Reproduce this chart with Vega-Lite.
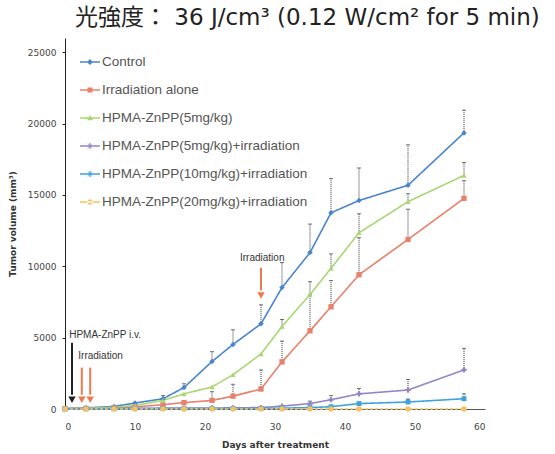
{
  "$schema": "https://vega.github.io/schema/vega-lite/v6.json",
  "width": 420,
  "height": 371,
  "autosize": {"type": "none"},
  "padding": {"left": 65, "top": 38, "right": 70, "bottom": 45},
  "background": "white",
  "title": {
    "text": "光強度： 36 J/cm³ (0.12 W/cm² for 5 min)",
    "anchor": "start",
    "frame": "group",
    "dx": 10,
    "offset": 8,
    "font": "DejaVu Sans, Noto Sans CJK JP",
    "fontSize": 23,
    "fontWeight": "normal",
    "color": "#222"
  },
  "config": {
    "view": {"stroke": null},
    "font": "DejaVu Sans",
    "axis": {"grid": false, "domainColor": "#222", "tickColor": "#222", "labelColor": "#444", "labelFont": "DejaVu Sans", "labelFontSize": 9, "titleFont": "DejaVu Sans", "titleColor": "#333", "titleFontSize": 9, "titleFontWeight": "bold"}
  },
  "datasets": {
    "series": [
      {"day": 0, "group": "Control", "v": 30}, {"day": 3, "group": "Control", "v": 80}, {"day": 7, "group": "Control", "v": 180}, {"day": 10, "group": "Control", "v": 420},
      {"day": 14, "group": "Control", "v": 720, "top": 940}, {"day": 17, "group": "Control", "v": 1500, "top": 1770}, {"day": 21, "group": "Control", "v": 3330, "top": 4020},
      {"day": 24, "group": "Control", "v": 4520, "top": 5550}, {"day": 28, "group": "Control", "v": 5970, "top": 7300}, {"day": 31, "group": "Control", "v": 8510, "top": 10260},
      {"day": 35, "group": "Control", "v": 10960, "top": 12960}, {"day": 38, "group": "Control", "v": 13750, "top": 16150}, {"day": 42, "group": "Control", "v": 14610, "top": 16890},
      {"day": 49, "group": "Control", "v": 15680, "top": 18510}, {"day": 57, "group": "Control", "v": 19350, "top": 20940},

      {"day": 0, "group": "Irradiation alone", "v": 20}, {"day": 3, "group": "Irradiation alone", "v": 40}, {"day": 7, "group": "Irradiation alone", "v": 80}, {"day": 10, "group": "Irradiation alone", "v": 150},
      {"day": 14, "group": "Irradiation alone", "v": 300}, {"day": 17, "group": "Irradiation alone", "v": 450}, {"day": 21, "group": "Irradiation alone", "v": 600, "top": 1210},
      {"day": 24, "group": "Irradiation alone", "v": 900, "top": 1730}, {"day": 28, "group": "Irradiation alone", "v": 1400, "top": 2740}, {"day": 31, "group": "Irradiation alone", "v": 3300, "top": 4760},
      {"day": 35, "group": "Irradiation alone", "v": 5480, "top": 8000}, {"day": 38, "group": "Irradiation alone", "v": 7160, "top": 9000}, {"day": 42, "group": "Irradiation alone", "v": 9410, "top": 12000},
      {"day": 49, "group": "Irradiation alone", "v": 11880, "top": 14000}, {"day": 57, "group": "Irradiation alone", "v": 14760, "top": 16000},

      {"day": 0, "group": "HPMA-ZnPP(5mg/kg)", "v": 30}, {"day": 3, "group": "HPMA-ZnPP(5mg/kg)", "v": 60}, {"day": 7, "group": "HPMA-ZnPP(5mg/kg)", "v": 120}, {"day": 10, "group": "HPMA-ZnPP(5mg/kg)", "v": 250},
      {"day": 14, "group": "HPMA-ZnPP(5mg/kg)", "v": 600}, {"day": 17, "group": "HPMA-ZnPP(5mg/kg)", "v": 1060}, {"day": 21, "group": "HPMA-ZnPP(5mg/kg)", "v": 1550},
      {"day": 24, "group": "HPMA-ZnPP(5mg/kg)", "v": 2400}, {"day": 28, "group": "HPMA-ZnPP(5mg/kg)", "v": 3860}, {"day": 31, "group": "HPMA-ZnPP(5mg/kg)", "v": 5780, "top": 6270},
      {"day": 35, "group": "HPMA-ZnPP(5mg/kg)", "v": 8020, "top": 8920}, {"day": 38, "group": "HPMA-ZnPP(5mg/kg)", "v": 9860, "top": 10870}, {"day": 42, "group": "HPMA-ZnPP(5mg/kg)", "v": 12350, "top": 13680},
      {"day": 49, "group": "HPMA-ZnPP(5mg/kg)", "v": 14530, "top": 15090}, {"day": 57, "group": "HPMA-ZnPP(5mg/kg)", "v": 16370, "top": 17270},

      {"day": 0, "group": "HPMA-ZnPP(5mg/kg)+irradiation", "v": 20}, {"day": 3, "group": "HPMA-ZnPP(5mg/kg)+irradiation", "v": 30}, {"day": 7, "group": "HPMA-ZnPP(5mg/kg)+irradiation", "v": 40}, {"day": 10, "group": "HPMA-ZnPP(5mg/kg)+irradiation", "v": 50},
      {"day": 14, "group": "HPMA-ZnPP(5mg/kg)+irradiation", "v": 60}, {"day": 17, "group": "HPMA-ZnPP(5mg/kg)+irradiation", "v": 60}, {"day": 21, "group": "HPMA-ZnPP(5mg/kg)+irradiation", "v": 70},
      {"day": 24, "group": "HPMA-ZnPP(5mg/kg)+irradiation", "v": 80}, {"day": 28, "group": "HPMA-ZnPP(5mg/kg)+irradiation", "v": 100}, {"day": 31, "group": "HPMA-ZnPP(5mg/kg)+irradiation", "v": 200},
      {"day": 35, "group": "HPMA-ZnPP(5mg/kg)+irradiation", "v": 380, "top": 550}, {"day": 38, "group": "HPMA-ZnPP(5mg/kg)+irradiation", "v": 650, "top": 940}, {"day": 42, "group": "HPMA-ZnPP(5mg/kg)+irradiation", "v": 1060, "top": 1440},
      {"day": 49, "group": "HPMA-ZnPP(5mg/kg)+irradiation", "v": 1330, "top": 2070}, {"day": 57, "group": "HPMA-ZnPP(5mg/kg)+irradiation", "v": 2740, "top": 4250},

      {"day": 0, "group": "HPMA-ZnPP(10mg/kg)+irradiation", "v": 10}, {"day": 3, "group": "HPMA-ZnPP(10mg/kg)+irradiation", "v": 20}, {"day": 7, "group": "HPMA-ZnPP(10mg/kg)+irradiation", "v": 20}, {"day": 10, "group": "HPMA-ZnPP(10mg/kg)+irradiation", "v": 25},
      {"day": 14, "group": "HPMA-ZnPP(10mg/kg)+irradiation", "v": 30}, {"day": 17, "group": "HPMA-ZnPP(10mg/kg)+irradiation", "v": 30}, {"day": 21, "group": "HPMA-ZnPP(10mg/kg)+irradiation", "v": 35},
      {"day": 24, "group": "HPMA-ZnPP(10mg/kg)+irradiation", "v": 35}, {"day": 28, "group": "HPMA-ZnPP(10mg/kg)+irradiation", "v": 40}, {"day": 31, "group": "HPMA-ZnPP(10mg/kg)+irradiation", "v": 60},
      {"day": 35, "group": "HPMA-ZnPP(10mg/kg)+irradiation", "v": 100}, {"day": 38, "group": "HPMA-ZnPP(10mg/kg)+irradiation", "v": 160}, {"day": 42, "group": "HPMA-ZnPP(10mg/kg)+irradiation", "v": 380},
      {"day": 49, "group": "HPMA-ZnPP(10mg/kg)+irradiation", "v": 490, "top": 700}, {"day": 57, "group": "HPMA-ZnPP(10mg/kg)+irradiation", "v": 720, "top": 1060},

      {"day": 0, "group": "HPMA-ZnPP(20mg/kg)+irradiation", "v": 5}, {"day": 3, "group": "HPMA-ZnPP(20mg/kg)+irradiation", "v": 5}, {"day": 7, "group": "HPMA-ZnPP(20mg/kg)+irradiation", "v": 5}, {"day": 10, "group": "HPMA-ZnPP(20mg/kg)+irradiation", "v": 5},
      {"day": 14, "group": "HPMA-ZnPP(20mg/kg)+irradiation", "v": 5}, {"day": 17, "group": "HPMA-ZnPP(20mg/kg)+irradiation", "v": 5}, {"day": 21, "group": "HPMA-ZnPP(20mg/kg)+irradiation", "v": 5},
      {"day": 24, "group": "HPMA-ZnPP(20mg/kg)+irradiation", "v": 5}, {"day": 28, "group": "HPMA-ZnPP(20mg/kg)+irradiation", "v": 5}, {"day": 31, "group": "HPMA-ZnPP(20mg/kg)+irradiation", "v": 5},
      {"day": 35, "group": "HPMA-ZnPP(20mg/kg)+irradiation", "v": 5}, {"day": 38, "group": "HPMA-ZnPP(20mg/kg)+irradiation", "v": 5}, {"day": 42, "group": "HPMA-ZnPP(20mg/kg)+irradiation", "v": 5},
      {"day": 49, "group": "HPMA-ZnPP(20mg/kg)+irradiation", "v": 5}, {"day": 57, "group": "HPMA-ZnPP(20mg/kg)+irradiation", "v": 5}
    ],
    "arrows": [
      {"day": 1, "y1": 4650, "y2": 1000, "tip": 650, "kind": "dark"},
      {"day": 2.4, "y1": 2900, "y2": 1000, "tip": 650, "kind": "orange"},
      {"day": 3.6, "y1": 2900, "y2": 1000, "tip": 650, "kind": "orange"},
      {"day": 28, "y1": 9900, "y2": 8300, "tip": 7950, "kind": "orange"}
    ],
    "notes": [
      {"day": 0.6, "y": 5200, "label": "HPMA-ZnPP i.v."},
      {"day": 1.9, "y": 3700, "label": "Irradiation"},
      {"day": 25, "y": 10600, "label": "Irradiation"}
    ]
  },
  "layer": [
    {
      "data": {"name": "series"},
      "transform": [{"filter": "isValid(datum.top)"}],
      "mark": {"type": "rule", "color": "#333", "strokeWidth": 1, "strokeDash": [1, 1]},
      "encoding": {
        "x": {"field": "day", "type": "quantitative"},
        "y": {"field": "v", "type": "quantitative"},
        "y2": {"field": "top"}
      }
    },
    {
      "data": {"name": "series"},
      "transform": [{"filter": "isValid(datum.top)"}],
      "mark": {"type": "tick", "orient": "horizontal", "color": "#333", "size": 4, "thickness": 1},
      "encoding": {
        "x": {"field": "day", "type": "quantitative"},
        "y": {"field": "top", "type": "quantitative"}
      }
    },
    {
      "data": {"name": "series"},
      "mark": {"type": "line", "strokeWidth": 1.6},
      "encoding": {
        "x": {"field": "day", "type": "quantitative", "scale": {"domain": [0, 60]},
          "axis": {"title": "Days after treatment", "values": [0, 10, 20, 30, 40, 50, 60], "ticks": false, "labelPadding": 13, "titlePadding": 9, "domainColor": "#555"}},
        "y": {"field": "v", "type": "quantitative", "scale": {"domain": [0, 25000]},
          "axis": {"title": "Tumor volume (mm³)", "values": [0, 5000, 10000, 15000, 20000, 25000], "format": "d", "tickSize": 3, "labelPadding": 6, "titlePadding": 10}},
        "color": {
          "field": "group", "type": "nominal",
          "scale": {
            "domain": ["Control", "Irradiation alone", "HPMA-ZnPP(5mg/kg)", "HPMA-ZnPP(5mg/kg)+irradiation", "HPMA-ZnPP(10mg/kg)+irradiation", "HPMA-ZnPP(20mg/kg)+irradiation"],
            "range": ["#4a84cf", "#e8806c", "#a8d672", "#9486c6", "#3fa2dc", "#f6c266"]
          },
          "legend": {
            "title": null,
            "orient": "none",
            "legendX": 15,
            "legendY": 14,
            "symbolSize": 400,
            "labelFont": "Liberation Sans",
            "labelFontSize": 13.5,
            "labelColor": "#555",
            "labelLimit": 400,
            "rowPadding": 11,
            "labelOffset": 2,
            "encode": {
              "symbols": {
                "update": {
                  "shape": {"signal": "datum.value === 'Control' ? 'M-1,-0.07H1V0.07H-1Z M0,-0.3L0.3,0L0,0.3L-0.3,0Z' : datum.value === 'Irradiation alone' ? 'M-1,-0.07H1V0.07H-1Z M-0.25,-0.25H0.25V0.25H-0.25Z' : datum.value === 'HPMA-ZnPP(5mg/kg)' ? 'M-1,-0.07H1V0.07H-1Z M0,-0.3L0.3,0.22H-0.3Z' : datum.value === 'HPMA-ZnPP(20mg/kg)+irradiation' ? 'M-1,-0.07H1V0.07H-1Z M-0.28,0A0.28,0.28 0 1,0 0.28,0A0.28,0.28 0 1,0 -0.28,0Z' : 'M-1,-0.07H1V0.07H-1Z M-0.3,-0.06H0.3V0.06H-0.3Z M-0.06,-0.3H0.06V0.3H-0.06Z M-0.22,-0.26L0.26,0.22L0.22,0.26L-0.26,-0.22Z M0.22,-0.26L0.26,-0.22L-0.22,0.26L-0.26,0.22Z'"},
                  "fill": {"signal": "scale('color', datum.value)"},
                  "fillOpacity": {"value": 1},
                  "stroke": {"value": "transparent"},
                  "strokeWidth": {"value": 0}
                }
              }
            }
          }
        },
        "strokeDash": {
          "field": "group", "type": "nominal",
          "scale": {
            "domain": ["Control", "Irradiation alone", "HPMA-ZnPP(5mg/kg)", "HPMA-ZnPP(5mg/kg)+irradiation", "HPMA-ZnPP(10mg/kg)+irradiation", "HPMA-ZnPP(20mg/kg)+irradiation"],
            "range": [[1, 0], [1, 0], [1, 0], [1, 0], [1, 0], [3, 2]]
          },
          "legend": null
        }
      }
    },
    {
      "data": {"name": "series"},
      "transform": [{"filter": "datum.group === 'Control'"}],
      "mark": {"type": "point", "filled": true, "size": 30, "opacity": 1, "shape": "diamond", "color": "#4a84cf"},
      "encoding": {"x": {"field": "day", "type": "quantitative"}, "y": {"field": "v", "type": "quantitative"}}
    },
    {
      "data": {"name": "series"},
      "transform": [{"filter": "datum.group === 'Irradiation alone'"}],
      "mark": {"type": "point", "filled": true, "size": 28, "opacity": 1, "shape": "square", "color": "#e8806c"},
      "encoding": {"x": {"field": "day", "type": "quantitative"}, "y": {"field": "v", "type": "quantitative"}}
    },
    {
      "data": {"name": "series"},
      "transform": [{"filter": "datum.group === 'HPMA-ZnPP(5mg/kg)'"}],
      "mark": {"type": "point", "filled": true, "size": 28, "opacity": 1, "shape": "triangle-up", "color": "#a8d672"},
      "encoding": {"x": {"field": "day", "type": "quantitative"}, "y": {"field": "v", "type": "quantitative"}}
    },
    {
      "data": {"name": "series"},
      "transform": [{"filter": "datum.group === 'HPMA-ZnPP(5mg/kg)+irradiation'"}],
      "mark": {"type": "point", "filled": true, "size": 28, "opacity": 1, "shape": "cross", "color": "#9486c6"},
      "encoding": {"x": {"field": "day", "type": "quantitative"}, "y": {"field": "v", "type": "quantitative"}}
    },
    {
      "data": {"name": "series"},
      "transform": [{"filter": "datum.group === 'HPMA-ZnPP(10mg/kg)+irradiation'"}],
      "mark": {"type": "point", "filled": true, "size": 24, "opacity": 1, "shape": "square", "color": "#3fa2dc"},
      "encoding": {"x": {"field": "day", "type": "quantitative"}, "y": {"field": "v", "type": "quantitative"}}
    },
    {
      "data": {"name": "series"},
      "transform": [{"filter": "datum.group === 'HPMA-ZnPP(20mg/kg)+irradiation'"}],
      "mark": {"type": "point", "filled": true, "size": 30, "opacity": 1, "shape": "circle", "color": "#f6c266"},
      "encoding": {"x": {"field": "day", "type": "quantitative"}, "y": {"field": "v", "type": "quantitative"}}
    },
    {
      "data": {"name": "arrows"},
      "mark": {"type": "rule", "strokeWidth": 2},
      "encoding": {
        "x": {"field": "day", "type": "quantitative"},
        "y": {"field": "y1", "type": "quantitative"},
        "y2": {"field": "y2"},
        "stroke": {"field": "kind", "type": "nominal", "scale": {"domain": ["dark", "orange"], "range": ["#222222", "#ee7a4e"]}, "legend": null}
      }
    },
    {
      "data": {"name": "arrows"},
      "mark": {"type": "point", "shape": "triangle-down", "filled": true, "size": 55, "opacity": 1},
      "encoding": {
        "x": {"field": "day", "type": "quantitative"},
        "y": {"field": "tip", "type": "quantitative"},
        "fill": {"field": "kind", "type": "nominal", "scale": {"domain": ["dark", "orange"], "range": ["#222222", "#ee7a4e"]}, "legend": null}
      }
    },
    {
      "data": {"name": "notes"},
      "mark": {"type": "text", "align": "left", "baseline": "middle", "font": "Liberation Sans", "fontSize": 10, "color": "#333"},
      "encoding": {
        "x": {"field": "day", "type": "quantitative"},
        "y": {"field": "y", "type": "quantitative"},
        "text": {"field": "label"}
      }
    }
  ]
}
